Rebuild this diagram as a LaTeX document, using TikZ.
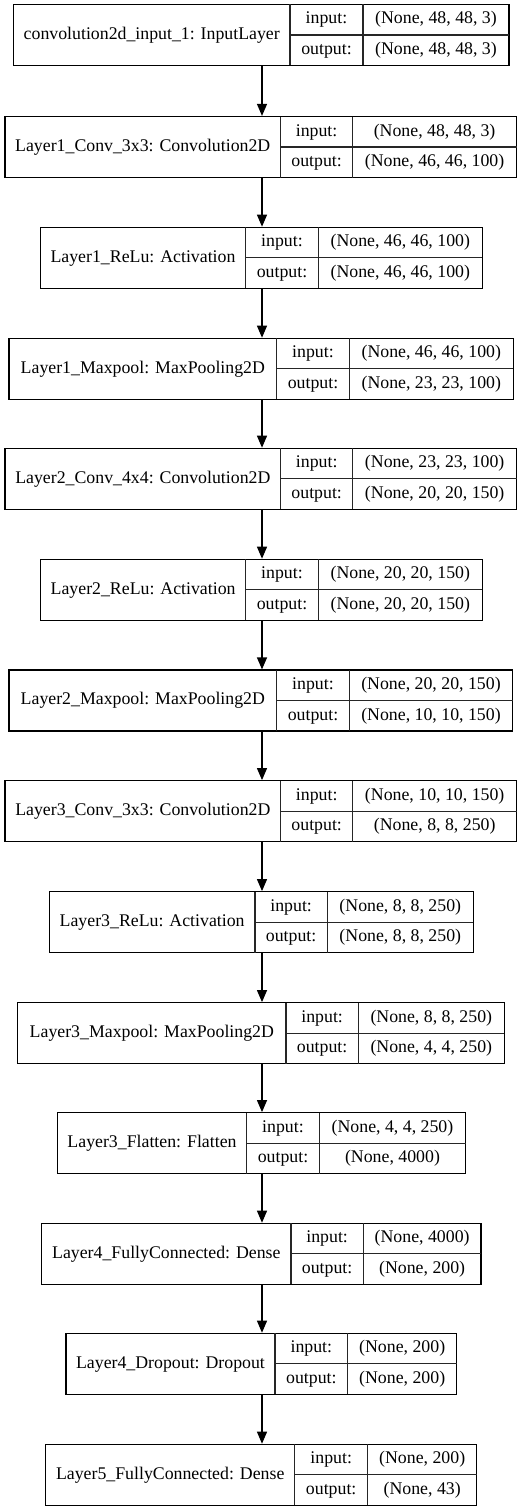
\documentclass[tikz,border=0pt]{standalone}
\usepackage{fontspec}
\setmainfont{Liberation Serif}
\usetikzlibrary{arrows.meta,fit}
\tikzset{
  lay/.style={draw=black, line width=1.2pt, inner sep=0pt},
  cell/.style={draw=black!85, line width=1.2pt},
  txt/.style={inner sep=0pt, text height=12.5pt, text depth=4pt, font=\fontsize{17.8}{20}\selectfont},
  arr/.style={draw=black, line width=1.2pt, -{Triangle[length=12pt,width=10pt]}}
}
% #1 name, #2 top, #3 L, #4 D1, #5 D2, #6 R, #7 label, #8 input, #9 output
\newcommand\kerasbox[9]{%
  \pgfmathsetmacro\kbB{#2+61}%
  \pgfmathsetmacro\kbM{#2+30.5}%
  \coordinate (#1nw) at (#3,#2);
  \coordinate (#1se) at (#6,\kbB);
  \node[lay, fit=(#1nw)(#1se)] (#1) {};
  \draw[cell] (#4,#2) -- (#4,\kbB);
  \draw[cell] (#5,#2) -- (#5,\kbB);
  \draw[cell] (#4,\kbM) -- (#6,\kbM);
  \node[txt] (#1lab) at ({(#3+#4)/2},\kbM) {#7};
  \node[txt] (#1ik) at ({(#4+#5)/2},{#2+15.25}) {input:};
  \node[txt] (#1ok) at ({(#4+#5)/2},{#2+45.75}) {output:};
  \node[txt] (#1iv) at ({(#5+#6)/2},{#2+15.25}) {#8};
  \node[txt] (#1ov) at ({(#5+#6)/2},{#2+45.75}) {#9};
}
\begin{document}
\begin{tikzpicture}[x=1pt,y=-1pt]
\useasboundingbox (0,0) rectangle (529,1512);
\coordinate (ax) at (262,0);
\kerasbox{b0}{4.5}{13.5}{290}{363}{509}{convolution2d\_input\_1: InputLayer}{(None, 48, 48, 3)}{(None, 48, 48, 3)}
\kerasbox{b1}{116.5}{5}{280.5}{352.7}{516.5}{Layer1\_Conv\_3x3: Convolution2D}{(None, 48, 48, 3)}{(None, 46, 46, 100)}
\kerasbox{b2}{227.3}{40.3}{245.7}{318.3}{482.3}{Layer1\_ReLu: Activation}{(None, 46, 46, 100)}{(None, 46, 46, 100)}
\kerasbox{b3}{338.3}{9}{276.7}{349.3}{513.3}{Layer1\_Maxpool: MaxPooling2D}{(None, 46, 46, 100)}{(None, 23, 23, 100)}
\kerasbox{b4}{448.3}{5}{280.7}{352.7}{516.7}{Layer2\_Conv\_4x4: Convolution2D}{(None, 23, 23, 100)}{(None, 20, 20, 150)}
\kerasbox{b5}{559.3}{40.5}{245.7}{318.3}{482.3}{Layer2\_ReLu: Activation}{(None, 20, 20, 150)}{(None, 20, 20, 150)}
\kerasbox{b6}{670}{9}{276.7}{349.3}{512.7}{Layer2\_Maxpool: MaxPooling2D}{(None, 20, 20, 150)}{(None, 10, 10, 150)}
\kerasbox{b7}{780.7}{5}{280.7}{352.7}{516.7}{Layer3\_Conv\_3x3: Convolution2D}{(None, 10, 10, 150)}{(None, 8, 8, 250)}
\kerasbox{b8}{891.7}{49.3}{255}{327.3}{473.3}{Layer3\_ReLu: Activation}{(None, 8, 8, 250)}{(None, 8, 8, 250)}
\kerasbox{b9}{1002.7}{17.7}{286}{358.3}{504.3}{Layer3\_Maxpool: MaxPooling2D}{(None, 8, 8, 250)}{(None, 4, 4, 250)}
\kerasbox{b10}{1112.7}{57.3}{246.7}{319.3}{465.7}{Layer3\_Flatten: Flatten}{(None, 4, 4, 250)}{(None, 4000)}
\kerasbox{b11}{1223.3}{41.7}{291}{363.3}{481}{Layer4\_FullyConnected: Dense}{(None, 4000)}{(None, 200)}
\kerasbox{b12}{1333.3}{66}{275}{347.7}{456.7}{Layer4\_Dropout: Dropout}{(None, 200)}{(None, 200)}
\kerasbox{b13}{1444.3}{45.7}{294.7}{367.7}{476.7}{Layer5\_FullyConnected: Dense}{(None, 200)}{(None, 43)}
\foreach \a/\b in {b0/b1,b1/b2,b2/b3,b3/b4,b4/b5,b5/b6,b6/b7,b7/b8,b8/b9,b9/b10,b10/b11,b11/b12,b12/b13}
  \draw[arr] (\a.south -| ax) -- (\b.north -| ax);
\end{tikzpicture}
\end{document}
